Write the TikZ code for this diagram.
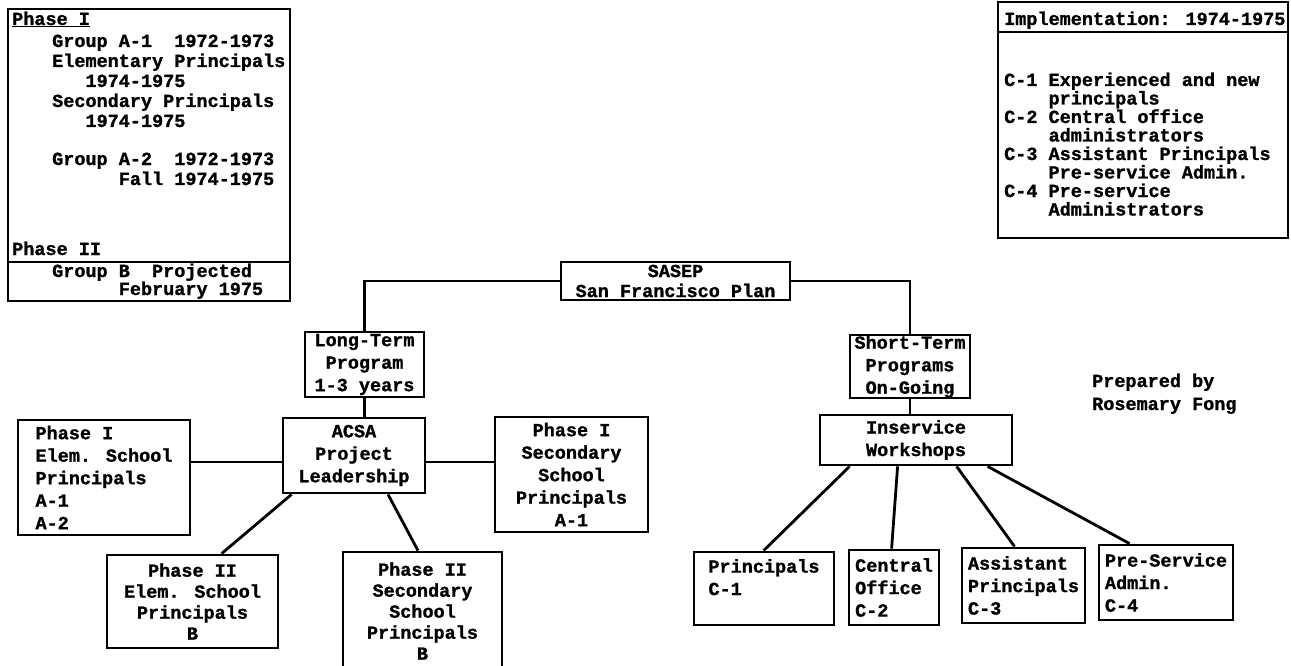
\documentclass[tikz,border=0pt]{standalone}
\usepackage{fontspec}
\newfontfamily\tw{Liberation Mono}[BoldFeatures={FakeBold=1.2}]
\newcommand\twf{\fontsize{18.5}{22.5}\tw\bfseries}
\newcommand\twm{\fontsize{18.5}{21}\tw\bfseries}
\newcommand\tws{\fontsize{18.5}{20}\tw\bfseries}
\newcommand\twn{\fontsize{18.5}{19}\tw\bfseries}
\newcommand\ch[1]{\hspace*{#1\fontcharwd\font`0}}
\begin{document}
\begin{tikzpicture}[x=1pt,y=-1pt,
  box/.style={draw, line width=2.8pt, align=center, font=\twf, inner sep=0pt},
  boxl/.style={box, align=left},
  frame/.style={draw, line width=2.8pt, inner sep=0pt},
  link/.style={line width=2.8pt},
  tx/.style={font=\twn, inner sep=0pt, anchor=base west},
]
\useasboundingbox (0,0) rectangle (1291,666);

% ---------- left legend ----------
\node[frame, minimum width=282, minimum height=292] (legl) at (149,155) {};
\node[tx] (lp1) at (12,25) {\underline{Phase I}};
\node[tx] (lg1) at (52,47) {Group A-1\ch{2}1972-1973};
\node[tx] (lg2) at (52,67) {Elementary Principals};
\node[tx] (lg3) at (85.3,87) {1974-1975};
\node[tx] (lg4) at (52,107) {Secondary Principals};
\node[tx] (lg5) at (85.3,127) {1974-1975};
\node[tx] (lg6) at (52,165) {Group A-2\ch{2}1972-1973};
\node[tx] (lg7) at (118.6,185) {Fall 1974-1975};
\node[tx] (lp2) at (12,255) {Phase II};
\draw[link] (legl.west |- 0,262) -- (legl.east |- 0,262);
\node[tx] (lg8) at (52,277) {Group B\ch{2}Projected};
\node[tx] (lg9) at (118.6,295) {February 1975};

% ---------- right legend ----------
\node[frame, minimum width=290, minimum height=236] (legr) at (1143,120) {};
\node[tx] (rt) at (1004,25) {Implementation: 1974-1975};
\draw[link] (legr.west |- 0,32) -- (legr.east |- 0,32);
\node[tx] (r1) at (1004,86) {C-1 Experienced and new};
\node[tx] (r2) at (1048.4,104.5) {principals};
\node[tx] (r3) at (1004,123) {C-2 Central office};
\node[tx] (r4) at (1048.4,141.5) {administrators};
\node[tx] (r5) at (1004,160) {C-3 Assistant Principals};
\node[tx] (r6) at (1048.4,178.5) {Pre-service Admin.};
\node[tx] (r7) at (1004,197) {C-4 Pre-service};
\node[tx] (r8) at (1048.4,215.5) {Administrators};

% ---------- prepared by ----------
\node[tx] (prep1) at (1092,387) {Prepared by};
\node[tx] (prep2) at (1092,410) {Rosemary Fong};

% ---------- tree ----------
\node[box, font=\tws, minimum width=229, minimum height=38] (sasep) at (675.5,281) {SASEP\\San Francisco Plan};
\node[box, minimum width=119, minimum height=65] (lt) at (364.5,364.5) {Long-Term\\Program\\1-3 years};
\node[box, minimum width=120, minimum height=63] (st) at (910,366.5) {Short-Term\\Programs\\On-Going};
\node[box, minimum width=142, minimum height=75] (acsa) at (354,455.5) {ACSA\\Project\\Leadership};
\node[boxl, minimum width=172, minimum height=115] (p1e) at (104,477.5) {Phase I\\Elem. School\\Principals\\A-1\\A-2};
\node[box, minimum width=153, minimum height=115] (p1s) at (571.5,474.5) {Phase I\\Secondary\\School\\Principals\\A-1};
\node[box, font=\twm, minimum width=171, minimum height=93] (p2e) at (192.5,601.5) {Phase II\\Elem. School\\Principals\\B};
\node[box, font=\twm, minimum width=159, minimum height=118] (p2s) at (422.5,611) {Phase II\\Secondary\\School\\Principals\\B};
\node[box, minimum width=192, minimum height=50] (inw) at (916,440) {Inservice\\Workshops};
\node[boxl, minimum width=140, minimum height=73] (c1) at (764,588.5) {Principals\\C-1\\\phantom{C}};
\node[boxl, minimum width=90, minimum height=75] (c2) at (894,587.5) {Central\\Office\\C-2};
\node[boxl, minimum width=123, minimum height=75] (c3) at (1023.5,585.5) {Assistant\\Principals\\C-3};
\node[boxl, minimum width=134, minimum height=75] (c4) at (1166,582.5) {Pre-Service\\Admin.\ch{4}\\C-4};

\draw[link] (sasep.west) -| (lt.north);
\draw[link] (sasep.east) -| (st.north);
\draw[link] (lt.south) -- (lt.south |- acsa.north);
\draw[link] ([yshift=-6.5]acsa.west) -- ([yshift=-6.5]acsa.west -| p1e.east);
\draw[link] ([yshift=-6.5]acsa.east) -- ([yshift=-6.5]acsa.east -| p1s.west);
\draw[link] ([xshift=10]acsa.south west) -- ([xshift=116]p2e.north west);
\draw[link] ([xshift=34]acsa.south) -- ([xshift=-4.5]p2s.north);
\draw[link] (st.south) -- (st.south |- inw.north);
\draw[link] ([xshift=31]inw.south west) -- ([xshift=71]c1.north west);
\draw[link] ([xshift=79]inw.south west) -- ([xshift=44]c2.north west);
\draw[link] ([xshift=138]inw.south west) -- ([xshift=54]c3.north west);
\draw[link] ([xshift=169]inw.south west) -- ([xshift=32]c4.north west);
\end{tikzpicture}
\end{document}
